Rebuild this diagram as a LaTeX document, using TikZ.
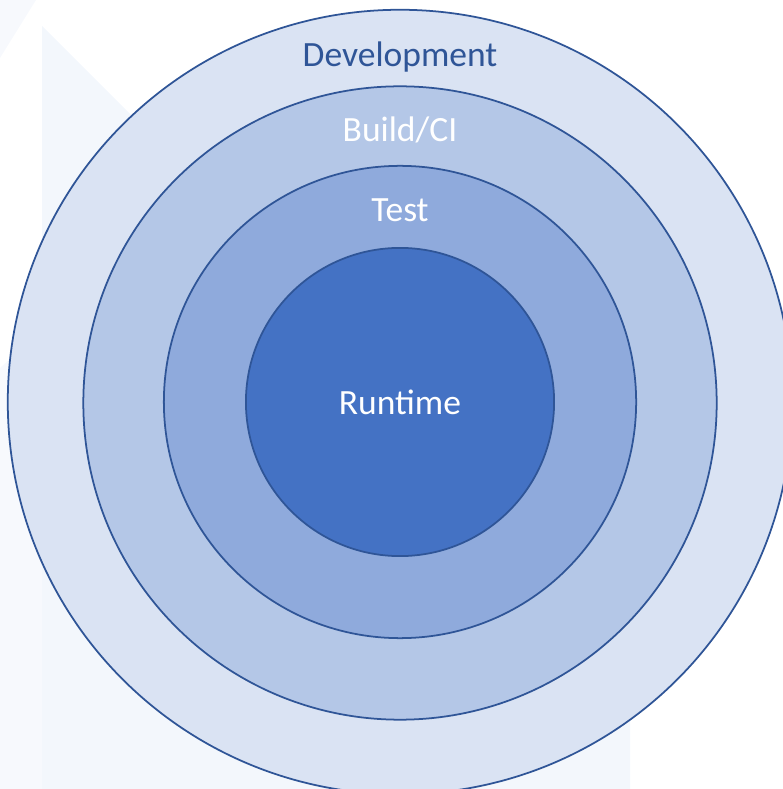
\documentclass[tikz,border=0pt]{standalone}
\usepackage{fontspec}
\setmainfont{Carlito}
\definecolor{ringline}{HTML}{2F5597}
\definecolor{devfill}{HTML}{DAE3F3}
\definecolor{buildfill}{HTML}{B4C7E7}
\definecolor{testfill}{HTML}{8FAADC}
\definecolor{runfill}{HTML}{4472C4}
\definecolor{tintA}{HTML}{F3F7FC}
\definecolor{tintB}{HTML}{F7F9FD}
\begin{document}
\begin{tikzpicture}[x=0.01cm,y=-0.01cm,
  ring/.style={circle, draw=ringline, line width=0.5pt, inner sep=0pt, outer sep=0pt},
  layer/.style={font=\fontsize{10.1}{12}\selectfont, text=white, inner sep=0pt, anchor=base}]
  \useasboundingbox (0,0) rectangle (782,789);
  % faint backdrop panels
  \fill[tintA] (42,26) -- (630,614) -- (630,789) -- (42,789) -- cycle;
  \fill[tintB] (0,368) -- (42,330) -- (42,789) -- (0,789) -- cycle;
  \fill[tintB] (0,0) -- (36,0) -- (0,58) -- cycle;
  % nested layers
  \node[ring, fill=devfill, minimum size=7.84cm] (dev) at (400,402) {};
  \node[ring, fill=buildfill, minimum size=6.33cm] (build) at (400,403) {};
  \node[ring, fill=testfill, minimum size=4.72cm] (test) at (400,402) {};
  \node[ring, fill=runfill, minimum size=3.08cm] (run) at (400,402) {};
  % labels
  \node[layer, text=ringline] (devlabel) at (400,67) {Development};
  \node[layer] (buildlabel) at (400,142) {Build/CI};
  \node[layer] (testlabel) at (400,222) {Test};
  \node[layer] (runlabel) at (400,415) {Runtime};
\end{tikzpicture}
\end{document}
